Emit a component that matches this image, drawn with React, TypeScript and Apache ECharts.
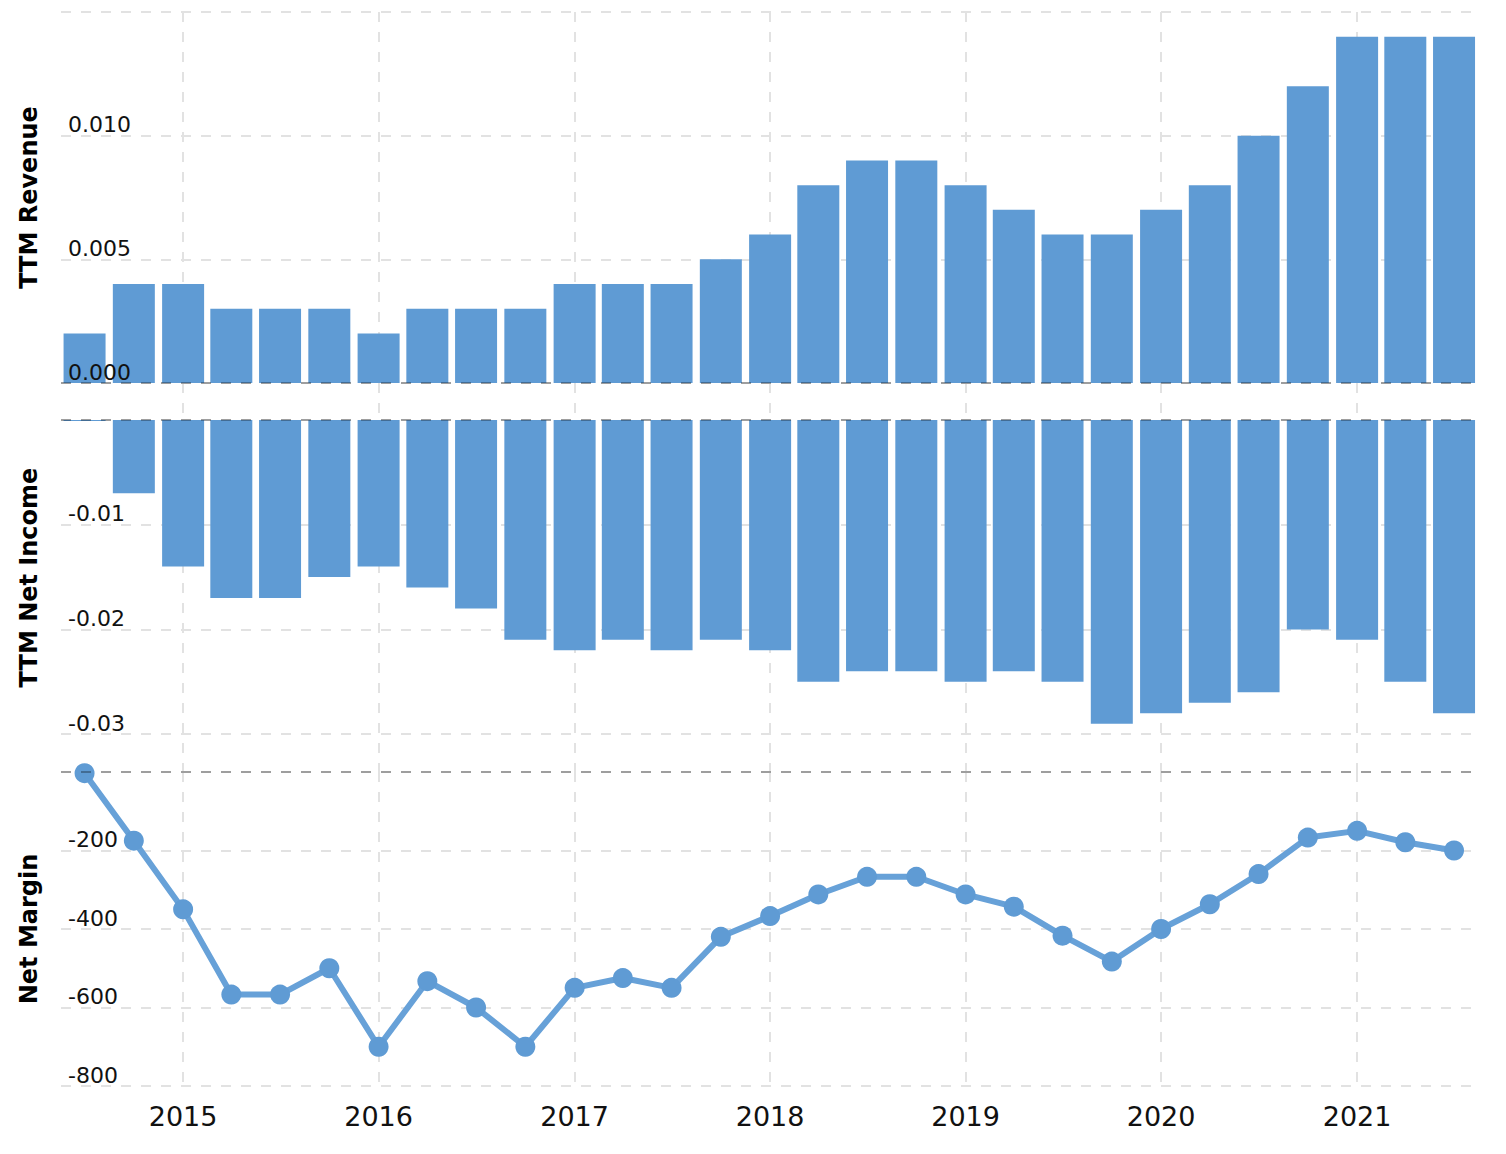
import React, { useEffect, useRef } from 'react';
import * as echarts from 'echarts';

const quarters = [
  '2014-07-01', '2014-10-01',
  '2015-01-01', '2015-04-01', '2015-07-01', '2015-10-01',
  '2016-01-01', '2016-04-01', '2016-07-01', '2016-10-01',
  '2017-01-01', '2017-04-01', '2017-07-01', '2017-10-01',
  '2018-01-01', '2018-04-01', '2018-07-01', '2018-10-01',
  '2019-01-01', '2019-04-01', '2019-07-01', '2019-10-01',
  '2020-01-01', '2020-04-01', '2020-07-01', '2020-10-01',
  '2021-01-01', '2021-04-01', '2021-07-01',
];

const ttmRevenue = [
  0.002, 0.004, 0.004, 0.003, 0.003, 0.003, 0.002, 0.003, 0.003, 0.003,
  0.004, 0.004, 0.004, 0.005, 0.006, 0.008, 0.009, 0.009, 0.008, 0.007,
  0.006, 0.006, 0.007, 0.008, 0.010, 0.012, 0.014, 0.014, 0.014,
];

const ttmNetIncome = [
  -0.0001, -0.007, -0.014, -0.017, -0.017, -0.015, -0.014, -0.016, -0.018, -0.021,
  -0.022, -0.021, -0.022, -0.021, -0.022, -0.025, -0.024, -0.024, -0.025, -0.024,
  -0.025, -0.029, -0.028, -0.027, -0.026, -0.020, -0.021, -0.025, -0.028,
];

const netMargin = [
  -3, -175, -350, -567, -567, -500, -700, -533, -600, -700,
  -550, -525, -550, -420, -367, -312, -267, -267, -312, -343,
  -417, -483, -400, -337, -260, -167, -150, -179, -200,
];

const X_MIN = '2014-05-18';
const X_MAX = '2021-08-11';

const BAR_COLOR = '#5f9bd4';
const FONT = 'DejaVu Sans';

const toTime = (s: string) => {
  const [y, m, d] = s.split('-').map(Number);
  return new Date(y, m - 1, d).getTime();
};

export default function App() {
  const ref = useRef<HTMLDivElement>(null);

  useEffect(() => {
    document.body.style.margin = '0';
    const chart = echarts.init(ref.current as HTMLDivElement, null, { renderer: 'svg' });

    const gridLeft = 61;
    const gridWidth = 1415;
    const splitStyle = { color: '#e2e2e2', width: 2, type: [10, 10] as number[] };
    const zeroLine = (v: number) => ({
      silent: true,
      symbol: 'none',
      label: { show: false },
      lineStyle: { color: 'rgba(0,0,0,0.3)', width: 2, type: [10, 10] as number[] },
      data: [{ yAxis: v }],
    });

    const yearFormatter = (val: number) => {
      const d = new Date(val);
      return d.getMonth() === 0 && d.getDate() === 1 ? String(d.getFullYear()) : '';
    };

    const timeAxis = (idx: number, showLabel: boolean) => ({
      type: 'time',
      gridIndex: idx,
      min: toTime(X_MIN),
      max: toTime(X_MAX),
      axisLine: { show: false },
      axisTick: { show: false },
      axisLabel: showLabel
        ? {
            show: true,
            formatter: yearFormatter,
            fontSize: 27,
            fontFamily: FONT,
            fontWeight: 'normal',
            color: '#111',
            margin: 17,
            showMinLabel: false,
            showMaxLabel: false,
          }
        : { show: false },
      splitLine: { show: true, lineStyle: splitStyle, showMinLine: false, showMaxLine: false },
    });

    // hidden numeric axis carrying the bars (same date extent, no bar overflow padding)
    const barAxis = (idx: number) => ({
      type: 'value',
      gridIndex: idx,
      show: false,
      min: toTime(X_MIN),
      max: toTime(X_MAX),
      splitLine: { show: false },
    });

    const yLabel = (formatter: (v: number) => string) => ({
      show: true,
      inside: true,
      margin: 7,
      verticalAlign: 'bottom',
      fontSize: 22,
      fontFamily: FONT,
      color: '#111',
      formatter,
    });

    const nameStyle = { fontFamily: FONT, fontWeight: 'bold', fontSize: 24, color: '#000' };

    const revFmt = (v: number) => (v > 0.0145 ? '' : v.toFixed(3));
    const incFmt = (v: number) => (v >= -0.001 || v < -0.031 ? '' : v.toFixed(2));
    const marFmt = (v: number) => (v === 0 ? '' : String(v));

    const option: any = {
      animation: false,
      backgroundColor: '#fff',
      textStyle: { fontFamily: FONT },
      grid: [
        { left: gridLeft, width: gridWidth, top: 12, height: 371 },
        { left: gridLeft, width: gridWidth, top: 383, height: 389 },
        { left: gridLeft, width: gridWidth, top: 772, height: 314 },
      ],
      xAxis: [
        timeAxis(0, false), // 0
        barAxis(0), // 1
        timeAxis(1, false), // 2
        barAxis(1), // 3
        timeAxis(2, true), // 4
      ],
      yAxis: [
        {
          type: 'value',
          gridIndex: 0,
          position: 'left',
          min: 0,
          max: 0.015,
          interval: 0.005,
          name: 'TTM Revenue',
          nameLocation: 'middle',
          nameGap: 20,
          nameTextStyle: nameStyle,
          axisLine: { show: false },
          axisTick: { show: false },
          axisLabel: { show: false },
          splitLine: { show: true, lineStyle: splitStyle },
        },
        {
          type: 'value',
          gridIndex: 0,
          position: 'left',
          offset: 0,
          z: 10,
          min: 0,
          max: 0.015,
          interval: 0.005,
          axisLine: { show: false },
          axisTick: { show: false },
          axisLabel: yLabel(revFmt),
          splitLine: { show: false },
        },
        {
          type: 'value',
          gridIndex: 1,
          position: 'left',
          min: -0.03362,
          max: 0.003534,
          name: 'TTM Net Income',
          nameLocation: 'middle',
          nameGap: 20,
          nameTextStyle: nameStyle,
          axisLine: { show: false },
          axisTick: { show: false },
          axisLabel: { show: false },
          splitLine: { show: true, lineStyle: splitStyle, showMinLine: false, showMaxLine: false },
        },
        {
          type: 'value',
          gridIndex: 1,
          position: 'left',
          offset: 0,
          z: 10,
          min: -0.03362,
          max: 0.003534,
          axisLine: { show: false },
          axisTick: { show: false },
          axisLabel: yLabel(incFmt),
          splitLine: { show: false },
        },
        {
          type: 'value',
          gridIndex: 2,
          position: 'left',
          min: -800,
          max: 0,
          interval: 200,
          name: 'Net Margin',
          nameLocation: 'middle',
          nameGap: 20,
          nameTextStyle: nameStyle,
          axisLine: { show: false },
          axisTick: { show: false },
          axisLabel: yLabel(marFmt),
          splitLine: { show: true, lineStyle: splitStyle },
        },
      ],
      series: [
        {
          name: 'TTM Revenue',
          type: 'bar',
          xAxisIndex: 1,
          yAxisIndex: 0,
          barWidth: 42,
          itemStyle: { color: BAR_COLOR },
          data: quarters.map((d, i) => [toTime(d), ttmRevenue[i]]),
          markLine: zeroLine(0),
        },
        {
          name: 'TTM Net Income',
          type: 'bar',
          xAxisIndex: 3,
          yAxisIndex: 2,
          barWidth: 42,
          itemStyle: { color: BAR_COLOR },
          data: quarters.map((d, i) => [toTime(d), ttmNetIncome[i]]),
          markLine: zeroLine(0),
        },
        {
          name: 'Net Margin',
          type: 'line',
          xAxisIndex: 4,
          yAxisIndex: 4,
          symbol: 'circle',
          symbolSize: 20,
          lineStyle: { color: '#67a1d8', width: 6 },
          itemStyle: { color: BAR_COLOR },
          data: quarters.map((d, i) => [toTime(d), netMargin[i]]),
          markLine: zeroLine(0),
        },
      ],
    };

    chart.setOption(option);
    return () => chart.dispose();
  }, []);

  return <div ref={ref} style={{ width: 1506, height: 1154 }} />;
}
